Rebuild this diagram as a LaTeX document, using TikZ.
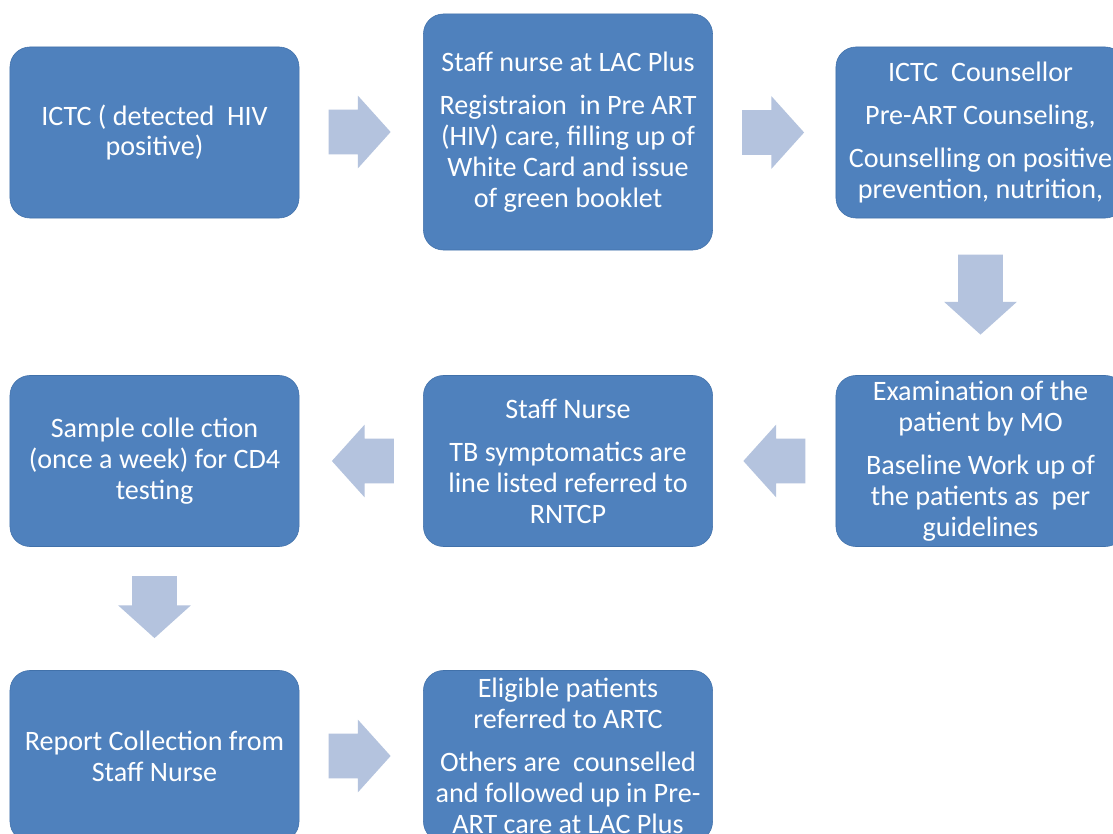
\documentclass[tikz,border=0pt]{standalone}
\usepackage{fontspec}
\setmainfont{Carlito}
\usetikzlibrary{shapes.arrows, calc}

\definecolor{boxblue}{RGB}{79,129,189}
\definecolor{boxedge}{RGB}{65,113,170}
\definecolor{arrowblue}{RGB}{180,195,222}

\begin{document}
\begin{tikzpicture}[x=0.025cm, y=-0.025cm,
    stepbox/.style={draw=boxedge, fill=boxblue, rounded corners=0.5cm, text=white, align=center,
        minimum width=7.225cm, minimum height=4.275cm, inner sep=0pt,
        font=\fontsize{20}{22}\selectfont},
    blockarrow/.style={shape=single arrow, fill=arrowblue, draw=none, inner xsep=0pt, inner ysep=0.55cm,
        single arrow head extend=0.35cm, single arrow tip angle=96, minimum height=1.55cm, anchor=tail},
    rarrow/.style={blockarrow},
    larrow/.style={blockarrow, rotate=180},
    darrow/.style={blockarrow, rotate=-90}]
\clip (0,0) rectangle (1113,834);
\fill[white] (0,0) rectangle (1113,834);

\node[stepbox] (ictc) at (154.5,132.5) {ICTC ( detected\ \ HIV\\positive)};
\node[stepbox, minimum height=5.9cm] (nurse) at (568,132) {Staff nurse at LAC Plus\\[0.3cm]Registraion\ \ in Pre ART\\(HIV) care, filling up of\\White Card and issue\\of green booklet};
\node[stepbox] (counsel) at (980.5,132.5) {ICTC\ \ Counsellor\\[0.3cm]Pre-ART Counseling,\\[0.3cm]Counselling on positive\\prevention, nutrition,};

\node[stepbox] (exam) at (980.5,461) {Examination of the\\patient by MO\\[0.3cm]Baseline Work up of\\the patients as\ \ per\\guidelines};
\node[stepbox] (tbnurse) at (568,461) {Staff Nurse\\[0.3cm]TB symptomatics are\\line listed referred to\\RNTCP};
\node[stepbox] (sample) at (154.5,461) {Sample colle ction\\(once a week) for CD4\\testing};

\node[stepbox] (report) at (154.5,756) {Report Collection from\\Staff Nurse};
\node[stepbox] (refer) at (568,756) {Eligible patients\\referred to ARTC\\[0.3cm]Others are\ \ counselled\\and followed up in Pre-\\ART care at LAC Plus};

\node[rarrow] (a1) at ($(ictc.east)+(29,-0.5)$) {};
\node[rarrow] (a2) at ($(nurse.east)+(29,0.5)$) {};
\node[darrow, minimum height=2cm] (a3) at ($(counsel.south)+(0,36)$) {};
\node[larrow] (a4) at ($(exam.west)+(-30,0)$) {};
\node[larrow] (a5) at ($(tbnurse.west)+(-29,0)$) {};
\node[darrow] (a6) at ($(sample.south)+(0,29)$) {};
\node[rarrow] (a7) at ($(report.east)+(29,0)$) {};

\end{tikzpicture}
\end{document}
